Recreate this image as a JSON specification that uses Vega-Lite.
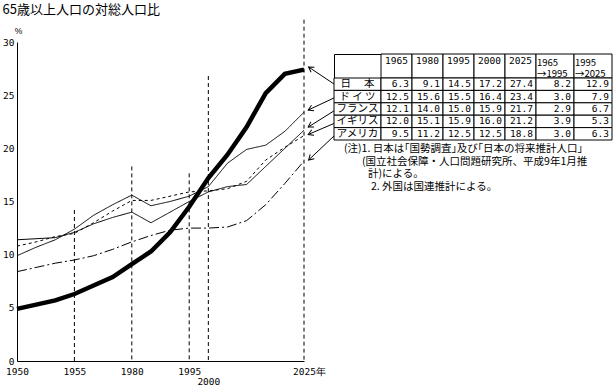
{
  "$schema": "https://vega.github.io/schema/vega-lite/v6.json",
  "padding": {"left": 2, "top": 4, "right": 2, "bottom": 0},
  "background": "white",
  "config": {
    "view": {"stroke": null},
    "font": "DejaVu Sans Mono",
    "axis": {"labelFont": "DejaVu Sans Mono", "labelFontSize": 9.5, "labelColor": "black", "domainColor": "black", "titleColor": "black", "grid": false, "ticks": false}
  },
  "title": {"text": "65歳以上人口の対総人口比", "anchor": "start", "frame": "bounds", "font": "Noto Sans CJK JP", "fontSize": 13, "fontWeight": "normal", "color": "black", "offset": 2},
  "datasets": {
    "lines": [
      {"c": "日本", "year": 1950, "v": 4.9}, {"c": "日本", "year": 1955, "v": 5.3}, {"c": "日本", "year": 1960, "v": 5.7}, {"c": "日本", "year": 1965, "v": 6.3},
      {"c": "日本", "year": 1970, "v": 7.1}, {"c": "日本", "year": 1975, "v": 7.9}, {"c": "日本", "year": 1980, "v": 9.1}, {"c": "日本", "year": 1985, "v": 10.3},
      {"c": "日本", "year": 1990, "v": 12.1}, {"c": "日本", "year": 1995, "v": 14.5}, {"c": "日本", "year": 2000, "v": 17.2}, {"c": "日本", "year": 2005, "v": 19.4},
      {"c": "日本", "year": 2010, "v": 22.0}, {"c": "日本", "year": 2015, "v": 25.2}, {"c": "日本", "year": 2020, "v": 27.0}, {"c": "日本", "year": 2025, "v": 27.4},
      {"c": "ドイツ", "year": 1950, "v": 9.9}, {"c": "ドイツ", "year": 1955, "v": 10.7}, {"c": "ドイツ", "year": 1960, "v": 11.4}, {"c": "ドイツ", "year": 1965, "v": 12.4},
      {"c": "ドイツ", "year": 1970, "v": 13.7}, {"c": "ドイツ", "year": 1975, "v": 14.7}, {"c": "ドイツ", "year": 1980, "v": 15.6}, {"c": "ドイツ", "year": 1985, "v": 14.6},
      {"c": "ドイツ", "year": 1990, "v": 15.0}, {"c": "ドイツ", "year": 1995, "v": 15.5}, {"c": "ドイツ", "year": 2000, "v": 16.4}, {"c": "ドイツ", "year": 2005, "v": 18.6},
      {"c": "ドイツ", "year": 2010, "v": 19.9}, {"c": "ドイツ", "year": 2015, "v": 20.3}, {"c": "ドイツ", "year": 2020, "v": 21.6}, {"c": "ドイツ", "year": 2025, "v": 23.4},
      {"c": "フランス", "year": 1950, "v": 11.4}, {"c": "フランス", "year": 1955, "v": 11.5}, {"c": "フランス", "year": 1960, "v": 11.6}, {"c": "フランス", "year": 1965, "v": 12.1},
      {"c": "フランス", "year": 1970, "v": 12.9}, {"c": "フランス", "year": 1975, "v": 13.5}, {"c": "フランス", "year": 1980, "v": 14.0}, {"c": "フランス", "year": 1985, "v": 13.0},
      {"c": "フランス", "year": 1990, "v": 14.0}, {"c": "フランス", "year": 1995, "v": 15.0}, {"c": "フランス", "year": 2000, "v": 15.9}, {"c": "フランス", "year": 2005, "v": 16.4},
      {"c": "フランス", "year": 2010, "v": 16.6}, {"c": "フランス", "year": 2015, "v": 18.3}, {"c": "フランス", "year": 2020, "v": 20.0}, {"c": "フランス", "year": 2025, "v": 21.7},
      {"c": "イギリス", "year": 1950, "v": 10.8}, {"c": "イギリス", "year": 1955, "v": 11.2}, {"c": "イギリス", "year": 1960, "v": 11.7}, {"c": "イギリス", "year": 1965, "v": 12.0},
      {"c": "イギリス", "year": 1970, "v": 13.0}, {"c": "イギリス", "year": 1975, "v": 14.1}, {"c": "イギリス", "year": 1980, "v": 15.1}, {"c": "イギリス", "year": 1985, "v": 15.1},
      {"c": "イギリス", "year": 1990, "v": 15.5}, {"c": "イギリス", "year": 1995, "v": 15.9}, {"c": "イギリス", "year": 2000, "v": 16.0}, {"c": "イギリス", "year": 2005, "v": 16.2},
      {"c": "イギリス", "year": 2010, "v": 16.9}, {"c": "イギリス", "year": 2015, "v": 18.9}, {"c": "イギリス", "year": 2020, "v": 20.1}, {"c": "イギリス", "year": 2025, "v": 21.2},
      {"c": "アメリカ", "year": 1950, "v": 8.4}, {"c": "アメリカ", "year": 1955, "v": 8.8}, {"c": "アメリカ", "year": 1960, "v": 9.2}, {"c": "アメリカ", "year": 1965, "v": 9.5},
      {"c": "アメリカ", "year": 1970, "v": 9.9}, {"c": "アメリカ", "year": 1975, "v": 10.5}, {"c": "アメリカ", "year": 1980, "v": 11.2}, {"c": "アメリカ", "year": 1985, "v": 11.8},
      {"c": "アメリカ", "year": 1990, "v": 12.3}, {"c": "アメリカ", "year": 1995, "v": 12.5}, {"c": "アメリカ", "year": 2000, "v": 12.5}, {"c": "アメリカ", "year": 2005, "v": 12.6},
      {"c": "アメリカ", "year": 2010, "v": 13.2}, {"c": "アメリカ", "year": 2015, "v": 14.7}, {"c": "アメリカ", "year": 2020, "v": 16.7}, {"c": "アメリカ", "year": 2025, "v": 18.8}
    ],
    "drops": [
      {"year": 1965, "top": 14.2}, {"year": 1980, "top": 18.3}, {"year": 1995, "top": 17.65}, {"year": 2000, "top": 26.8}, {"year": 2025, "top": 32.1}
    ],
    "arrows": [
      {"c": "日本", "tx": 2032.84, "ty": 26.05, "hx": 2026.2, "hy": 27.65},
      {"c": "ドイツ", "tx": 2032.84, "ty": 24.74, "hx": 2026.1, "hy": 23.6},
      {"c": "フランス", "tx": 2032.84, "ty": 23.52, "hx": 2026.1, "hy": 22.0},
      {"c": "イギリス", "tx": 2032.84, "ty": 22.34, "hx": 2026.1, "hy": 21.3},
      {"c": "アメリカ", "tx": 2032.84, "ty": 21.16, "hx": 2026.2, "hy": 18.9}
    ],
    "head": [
      {"col": "1965", "label": "1965"}, {"col": "1980", "label": "1980"}, {"col": "1995", "label": "1995"},
      {"col": "2000", "label": "2000"}, {"col": "2025", "label": "2025"},
      {"col": "1965→1995", "label": "1965\n→1995"}, {"col": "1995→2025", "label": "1995\n→2025"}
    ],
    "rowlab": [
      {"c": "日本", "label": "日　 本"}, {"c": "ドイツ", "label": "ド イ ツ"}, {"c": "フランス", "label": "フランス"},
      {"c": "イギリス", "label": "イギリス"}, {"c": "アメリカ", "label": "アメリカ"}
    ],
    "cells": [
      {"c": "日本", "col": "1965", "v": 6.3}, {"c": "日本", "col": "1980", "v": 9.1}, {"c": "日本", "col": "1995", "v": 14.5}, {"c": "日本", "col": "2000", "v": 17.2},
      {"c": "日本", "col": "2025", "v": 27.4}, {"c": "日本", "col": "1965→1995", "v": 8.2}, {"c": "日本", "col": "1995→2025", "v": 12.9},
      {"c": "ドイツ", "col": "1965", "v": 12.5}, {"c": "ドイツ", "col": "1980", "v": 15.6}, {"c": "ドイツ", "col": "1995", "v": 15.5}, {"c": "ドイツ", "col": "2000", "v": 16.4},
      {"c": "ドイツ", "col": "2025", "v": 23.4}, {"c": "ドイツ", "col": "1965→1995", "v": 3.0}, {"c": "ドイツ", "col": "1995→2025", "v": 7.9},
      {"c": "フランス", "col": "1965", "v": 12.1}, {"c": "フランス", "col": "1980", "v": 14.0}, {"c": "フランス", "col": "1995", "v": 15.0}, {"c": "フランス", "col": "2000", "v": 15.9},
      {"c": "フランス", "col": "2025", "v": 21.7}, {"c": "フランス", "col": "1965→1995", "v": 2.9}, {"c": "フランス", "col": "1995→2025", "v": 6.7},
      {"c": "イギリス", "col": "1965", "v": 12.0}, {"c": "イギリス", "col": "1980", "v": 15.1}, {"c": "イギリス", "col": "1995", "v": 15.9}, {"c": "イギリス", "col": "2000", "v": 16.0},
      {"c": "イギリス", "col": "2025", "v": 21.2}, {"c": "イギリス", "col": "1965→1995", "v": 3.9}, {"c": "イギリス", "col": "1995→2025", "v": 5.3},
      {"c": "アメリカ", "col": "1965", "v": 9.5}, {"c": "アメリカ", "col": "1980", "v": 11.2}, {"c": "アメリカ", "col": "1995", "v": 12.5}, {"c": "アメリカ", "col": "2000", "v": 12.5},
      {"c": "アメリカ", "col": "2025", "v": 18.8}, {"c": "アメリカ", "col": "1965→1995", "v": 3.0}, {"c": "アメリカ", "col": "1995→2025", "v": 6.3}
    ],
    "notes": [
      {"i": 1, "t": "(注)1. 日本は｢国勢調査｣及び｢日本の将来推計人口｣"},
      {"i": 2, "t": "(国立社会保障・人口問題研究所、平成9年1月推"},
      {"i": 3, "t": "計)による。"},
      {"i": 4, "t": "2. 外国は国連推計による。"}
    ]
  },
  "hconcat": [
    {
      "width": 287,
      "height": 319,
      "layer": [
        {
          "data": {"name": "lines"},
          "transform": [{"filter": "datum.c != '日本'"}],
          "mark": {"type": "line", "color": "black", "strokeWidth": 1},
          "encoding": {
            "x": {"field": "year", "type": "quantitative", "scale": {"domain": [1950, 2025], "nice": false, "zero": false},
              "axis": {"values": [1950, 1965, 1980, 1995, 2000, 2025], "format": "d",
                "labelExpr": "datum.value == 1965 ? '1955' : datum.value == 2025 ? '2025年' : datum.label",
                "labelFlush": false, "labelOverlap": false, "title": null,
                "labelPadding": {"condition": {"test": "datum.value == 2000", "value": 15}, "value": 5},
                "labelOffset": {"condition": {"test": "datum.value == 2025", "value": 5}, "value": 0}}},
            "y": {"field": "v", "type": "quantitative", "scale": {"domain": [0, 30], "nice": false, "zero": false},
              "axis": {"values": [0, 5, 10, 15, 20, 25, 30], "labelPadding": 3, "title": "%", "titleAngle": 0, "titleX": 1, "titleY": -9,
                "titleAlign": "center", "titleBaseline": "alphabetic", "titleFont": "Liberation Sans", "titleFontSize": 8.5, "titleFontWeight": "normal"}},
            "detail": {"field": "c", "type": "nominal"},
            "strokeDash": {"field": "c", "type": "nominal",
              "scale": {"domain": ["ドイツ", "フランス", "イギリス", "アメリカ"], "range": [[1, 0], [1, 0], [3, 3], [10, 3, 2, 3]]}, "legend": null}
          }
        },
        {
          "data": {"name": "drops"},
          "mark": {"type": "rule", "color": "black", "strokeWidth": 1, "strokeDash": [4, 3]},
          "encoding": {
            "x": {"field": "year", "type": "quantitative"},
            "y": {"field": "top", "type": "quantitative"},
            "y2": {"datum": 0}
          }
        },
        {
          "data": {"name": "arrows"},
          "mark": {"type": "rule", "color": "black", "strokeWidth": 1},
          "encoding": {
            "x": {"field": "tx", "type": "quantitative"},
            "x2": {"field": "hx"},
            "y": {"field": "ty", "type": "quantitative"},
            "y2": {"field": "hy"}
          }
        },
        {
          "data": {"name": "lines"},
          "transform": [{"filter": "datum.c == '日本'"}],
          "mark": {"type": "line", "color": "black", "strokeWidth": 4.5},
          "encoding": {
            "x": {"field": "year", "type": "quantitative"},
            "y": {"field": "v", "type": "quantitative"}
          }
        },
        {
          "data": {"name": "arrows"},
          "transform": [{"filter": "datum.c == '日本'"}],
          "mark": {"type": "point", "shape": "M-1,-0.6L0,0L-1,0.6", "filled": false, "color": "black", "strokeWidth": 1, "size": 100, "opacity": 1, "angle": 214},
          "encoding": {"x": {"field": "hx", "type": "quantitative"}, "y": {"field": "hy", "type": "quantitative"}}
        },
        {
          "data": {"name": "arrows"},
          "transform": [{"filter": "datum.c == 'ドイツ'"}],
          "mark": {"type": "point", "shape": "M-1,-0.6L0,0L-1,0.6", "filled": false, "color": "black", "strokeWidth": 1, "size": 100, "opacity": 1, "angle": 155},
          "encoding": {"x": {"field": "hx", "type": "quantitative"}, "y": {"field": "hy", "type": "quantitative"}}
        },
        {
          "data": {"name": "arrows"},
          "transform": [{"filter": "datum.c == 'フランス'"}],
          "mark": {"type": "point", "shape": "M-1,-0.6L0,0L-1,0.6", "filled": false, "color": "black", "strokeWidth": 1, "size": 100, "opacity": 1, "angle": 148},
          "encoding": {"x": {"field": "hx", "type": "quantitative"}, "y": {"field": "hy", "type": "quantitative"}}
        },
        {
          "data": {"name": "arrows"},
          "transform": [{"filter": "datum.c == 'イギリス'"}],
          "mark": {"type": "point", "shape": "M-1,-0.6L0,0L-1,0.6", "filled": false, "color": "black", "strokeWidth": 1, "size": 100, "opacity": 1, "angle": 157},
          "encoding": {"x": {"field": "hx", "type": "quantitative"}, "y": {"field": "hy", "type": "quantitative"}}
        },
        {
          "data": {"name": "arrows"},
          "transform": [{"filter": "datum.c == 'アメリカ'"}],
          "mark": {"type": "point", "shape": "M-1,-0.6L0,0L-1,0.6", "filled": false, "color": "black", "strokeWidth": 1, "size": 100, "opacity": 1, "angle": 137},
          "encoding": {"x": {"field": "hx", "type": "quantitative"}, "y": {"field": "hy", "type": "quantitative"}}
        }
      ]
    },
    {
      "vconcat": [
        {
          "vconcat": [
            {"width": 278, "height": 1, "data": {"values": [{"k": 0}]}, "mark": {"type": "point", "opacity": 0, "size": 0}},
            {
              "concat": [
                {"width": 47, "height": 24, "view": {"stroke": "black", "strokeWidth": 1}, "data": {"values": [{"k": 0}]}, "mark": {"type": "point", "opacity": 0, "size": 0}},
                {
                  "width": 155, "height": 24,
                  "data": {"name": "head"},
                  "transform": [{"filter": {"field": "col", "oneOf": ["1965", "1980", "1995", "2000", "2025"]}}],
                  "layer": [
                    {
                      "mark": {"type": "rect", "fill": "white", "stroke": "black", "strokeWidth": 1},
                      "encoding": {"x": {"field": "col", "type": "ordinal", "axis": null,
                        "scale": {"type": "band", "domain": ["1965", "1980", "1995", "2000", "2025"], "paddingInner": 0, "paddingOuter": 0}}}
                    },
                    {
                      "mark": {"type": "text", "font": "DejaVu Sans Mono", "fontSize": 9.5, "dy": -5, "color": "black"},
                      "encoding": {
                        "x": {"field": "col", "type": "ordinal", "axis": null,
                          "scale": {"type": "band", "domain": ["1965", "1980", "1995", "2000", "2025"], "paddingInner": 0, "paddingOuter": 0}},
                        "text": {"field": "label", "type": "nominal"}
                      }
                    }
                  ]
                },
                {
                  "width": 76, "height": 24,
                  "data": {"name": "head"},
                  "transform": [{"filter": {"field": "col", "oneOf": ["1965→1995", "1995→2025"]}}],
                  "layer": [
                    {
                      "mark": {"type": "rect", "fill": "white", "stroke": "black", "strokeWidth": 1},
                      "encoding": {"x": {"field": "col", "type": "ordinal", "axis": null,
                        "scale": {"type": "band", "domain": ["1965→1995", "1995→2025"], "paddingInner": 0, "paddingOuter": 0}}}
                    },
                    {
                      "mark": {"type": "text", "font": "Noto Sans CJK JP", "fontSize": 9.5, "align": "left", "dx": 1, "dy": -3.5, "lineBreak": "\n", "lineHeight": 11, "color": "black"},
                      "encoding": {
                        "x": {"field": "col", "type": "ordinal", "axis": null, "bandPosition": 0,
                          "scale": {"type": "band", "domain": ["1965→1995", "1995→2025"], "paddingInner": 0, "paddingOuter": 0}},
                        "text": {"field": "label", "type": "nominal"}
                      }
                    }
                  ]
                },
                {
                  "width": 47, "height": 62,
                  "data": {"name": "rowlab"},
                  "layer": [
                    {
                      "mark": {"type": "rect", "fill": "white", "stroke": "black", "strokeWidth": 1},
                      "encoding": {"y": {"field": "c", "type": "ordinal", "axis": null,
                        "scale": {"type": "band", "domain": ["日本", "ドイツ", "フランス", "イギリス", "アメリカ"], "paddingInner": 0, "paddingOuter": 0}}}
                    },
                    {
                      "mark": {"type": "text", "font": "Noto Sans CJK JP", "fontSize": 10.5, "color": "black"},
                      "encoding": {
                        "y": {"field": "c", "type": "ordinal", "axis": null,
                          "scale": {"type": "band", "domain": ["日本", "ドイツ", "フランス", "イギリス", "アメリカ"], "paddingInner": 0, "paddingOuter": 0}},
                        "text": {"field": "label", "type": "nominal"}
                      }
                    }
                  ]
                },
                {
                  "width": 155, "height": 62,
                  "data": {"name": "cells"},
                  "transform": [{"filter": {"field": "col", "oneOf": ["1965", "1980", "1995", "2000", "2025"]}}],
                  "layer": [
                    {
                      "mark": {"type": "rect", "fill": "white", "stroke": "black", "strokeWidth": 1},
                      "encoding": {
                        "x": {"field": "col", "type": "ordinal", "axis": null,
                          "scale": {"type": "band", "domain": ["1965", "1980", "1995", "2000", "2025"], "paddingInner": 0, "paddingOuter": 0}},
                        "y": {"field": "c", "type": "ordinal", "axis": null,
                          "scale": {"type": "band", "domain": ["日本", "ドイツ", "フランス", "イギリス", "アメリカ"], "paddingInner": 0, "paddingOuter": 0}}
                      }
                    },
                    {
                      "mark": {"type": "text", "font": "DejaVu Sans Mono", "fontSize": 9.5, "align": "right", "dx": -3, "color": "black"},
                      "encoding": {
                        "x": {"field": "col", "type": "ordinal", "axis": null, "bandPosition": 1,
                          "scale": {"type": "band", "domain": ["1965", "1980", "1995", "2000", "2025"], "paddingInner": 0, "paddingOuter": 0}},
                        "y": {"field": "c", "type": "ordinal", "axis": null,
                          "scale": {"type": "band", "domain": ["日本", "ドイツ", "フランス", "イギリス", "アメリカ"], "paddingInner": 0, "paddingOuter": 0}},
                        "text": {"field": "v", "type": "quantitative", "format": ".1f"}
                      }
                    }
                  ]
                },
                {
                  "width": 76, "height": 62,
                  "data": {"name": "cells"},
                  "transform": [{"filter": {"field": "col", "oneOf": ["1965→1995", "1995→2025"]}}],
                  "layer": [
                    {
                      "mark": {"type": "rect", "fill": "white", "stroke": "black", "strokeWidth": 1},
                      "encoding": {
                        "x": {"field": "col", "type": "ordinal", "axis": null,
                          "scale": {"type": "band", "domain": ["1965→1995", "1995→2025"], "paddingInner": 0, "paddingOuter": 0}},
                        "y": {"field": "c", "type": "ordinal", "axis": null,
                          "scale": {"type": "band", "domain": ["日本", "ドイツ", "フランス", "イギリス", "アメリカ"], "paddingInner": 0, "paddingOuter": 0}}
                      }
                    },
                    {
                      "mark": {"type": "text", "font": "DejaVu Sans Mono", "fontSize": 9.5, "align": "right", "dx": -3, "color": "black"},
                      "encoding": {
                        "x": {"field": "col", "type": "ordinal", "axis": null, "bandPosition": 1,
                          "scale": {"type": "band", "domain": ["1965→1995", "1995→2025"], "paddingInner": 0, "paddingOuter": 0}},
                        "y": {"field": "c", "type": "ordinal", "axis": null,
                          "scale": {"type": "band", "domain": ["日本", "ドイツ", "フランス", "イギリス", "アメリカ"], "paddingInner": 0, "paddingOuter": 0}},
                        "text": {"field": "v", "type": "quantitative", "format": ".1f"}
                      }
                    }
                  ]
                }
              ],
              "columns": 3,
              "spacing": 0,
              "align": "each",
              "bounds": "flush"
            }
          ],
          "spacing": 10,
          "bounds": "full"
        },
        {
          "width": 278, "height": 50,
          "data": {"name": "notes"},
          "encoding": {
            "x": {"value": 0},
            "y": {"field": "i", "type": "ordinal", "axis": null, "scale": {"type": "band", "domain": [1, 2, 3, 4], "paddingInner": 0, "paddingOuter": 0}},
            "text": {"field": "t", "type": "nominal"}
          },
          "layer": [
            {"transform": [{"filter": "datum.i == 1"}], "mark": {"type": "text", "font": "Noto Sans CJK JP", "fontSize": 10.5, "align": "left", "dx": 10, "color": "black"}},
            {"transform": [{"filter": "datum.i == 2"}], "mark": {"type": "text", "font": "Noto Sans CJK JP", "fontSize": 10.5, "align": "left", "dx": 28, "color": "black"}},
            {"transform": [{"filter": "datum.i == 3"}], "mark": {"type": "text", "font": "Noto Sans CJK JP", "fontSize": 10.5, "align": "left", "dx": 34, "color": "black"}},
            {"transform": [{"filter": "datum.i == 4"}], "mark": {"type": "text", "font": "Noto Sans CJK JP", "fontSize": 10.5, "align": "left", "dx": 37, "color": "black"}}
          ]
        }
      ],
      "spacing": 2,
      "bounds": "full"
    }
  ],
  "spacing": 30,
  "bounds": "flush"
}
